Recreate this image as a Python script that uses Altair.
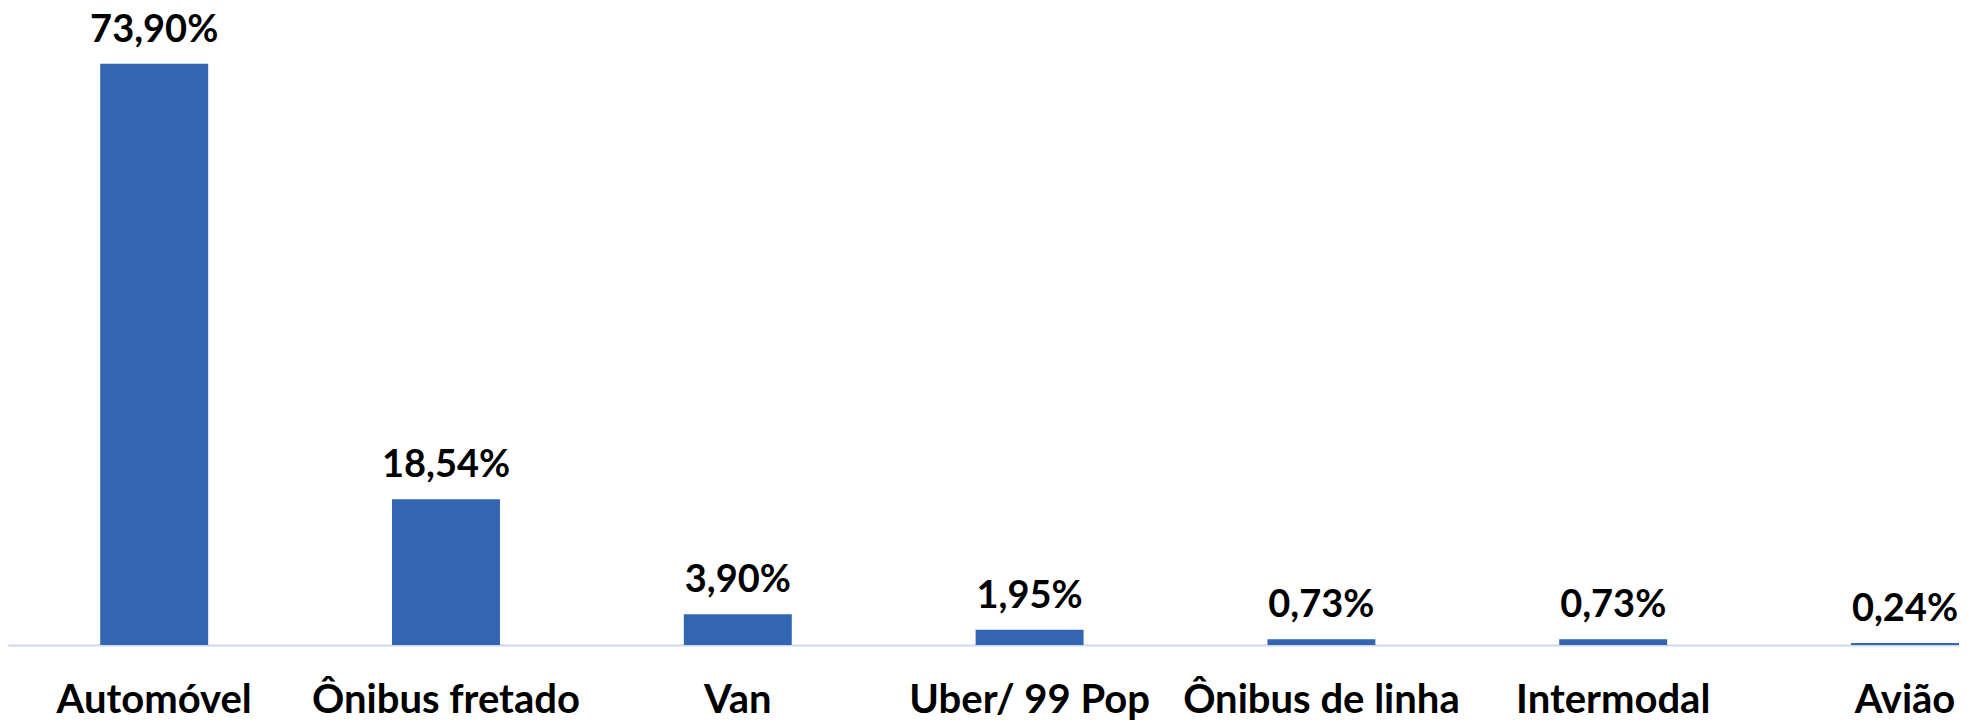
import altair as alt
import pandas as pd

categories = ["Automóvel", "Ônibus fretado", "Van", "Uber/ 99 Pop",
              "Ônibus de linha", "Intermodal", "Avião"]
values = [73.90, 18.54, 3.90, 1.95, 0.73, 0.73, 0.24]
labels = [f"{v:.2f}".replace(".", ",") + "%" for v in values]

df = pd.DataFrame({"cat": categories, "val": values, "lab": labels})

FONT = "Lato"
W, H = 1951, 637

x = alt.X("cat:N", sort=categories, title=None,
          scale=alt.Scale(paddingInner=0.63, paddingOuter=0.158, align=1.0),
          axis=alt.Axis(labelAngle=0, labelFont=FONT, labelFontSize=40,
                        labelFontWeight="bold", labelColor="#000000",
                        labelPadding=35, labelLimit=500, labelOverlap=False,
                        domain=True, domainColor="#CDD8EF", domainWidth=2,
                        ticks=False, grid=False))
y = alt.Y("val:Q", scale=alt.Scale(domain=[0, 81], nice=False, zero=True),
          axis=None, title=None)

bars = alt.Chart(df).mark_bar(color="#3366B2").encode(x=x, y=y)
text = alt.Chart(df).mark_text(font=FONT, fontSize=38, fontWeight="bold",
                               color="#000000", baseline="alphabetic",
                               dy=-22).encode(x=x, y=y, text="lab:N")

chart = alt.layer(bars, text).properties(
    width=W, height=H,
    autosize=alt.AutoSizeParams(type="none"),
    padding={"left": 0, "right": 0, "top": 0, "bottom": 75},
).configure_view(stroke=None)

chart.save("out.html", embed_options={"renderer": "svg", "actions": False})
